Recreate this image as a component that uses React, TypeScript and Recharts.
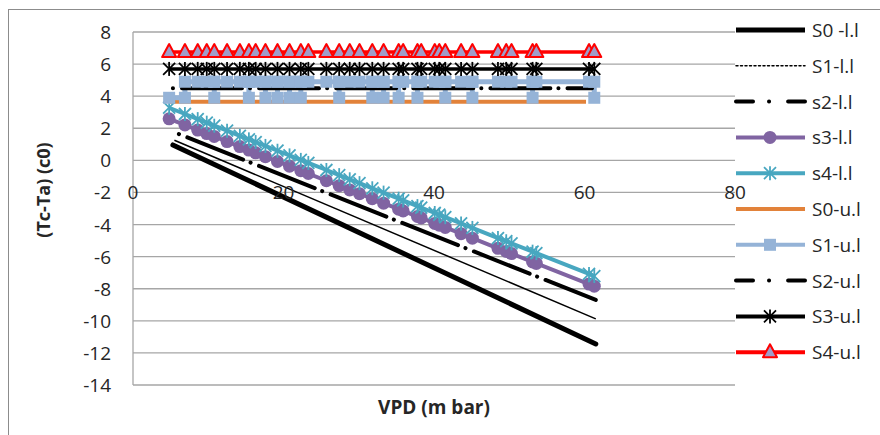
import { CartesianGrid, Line, LineChart, XAxis, YAxis } from "recharts";

// VPD readings shared by the marker series
const vpd = [
  4.8, 6.9, 8.6, 9.8, 10.8, 12.5, 14.2, 15.4, 16.3, 17.6, 19.2, 20.8, 22.3, 23.3, 25.7, 27.4, 28.8, 30.1,
  31.8, 33.3, 35.3, 35.9, 37.8, 38.3, 40.1, 40.7, 41.5, 43.6, 45.1, 48.5, 49.6, 50.3, 53.1, 53.6, 60.6, 61.3,
];

const s3Lower = [
  2.59, 2.21, 1.89, 1.67, 1.49, 1.17, 0.86, 0.64, 0.47, 0.23, -0.07, -0.36, -0.64, -0.82, -1.27, -1.58, -1.84,
  -2.08, -2.39, -2.67, -3.04, -3.15, -3.5, -3.59, -3.93, -4.04, -4.18, -4.57, -4.85, -5.48, -5.68, -5.81, -6.33,
  -6.42, -7.71, -7.84,
];
const s4Lower = [
  3.28, 2.89, 2.57, 2.35, 2.16, 1.85, 1.53, 1.31, 1.14, 0.9, 0.6, 0.31, 0.03, -0.16, -0.6, -0.92, -1.18, -1.42,
  -1.74, -2.01, -2.39, -2.5, -2.85, -2.94, -3.28, -3.39, -3.54, -3.93, -4.21, -4.84, -5.04, -5.17, -5.69, -5.78,
  -7.08, -7.21,
];
const s3Upper = [
  5.7, 5.7, 5.7, 5.7, 5.7, 5.7, 5.7, 5.7, 5.7, 5.7, 5.7, 5.7, 5.7, 5.7, 5.7, 5.7, 5.7, 5.7, 5.7, 5.7, 5.7, 5.7,
  5.7, 5.7, 5.7, 5.7, 5.7, 5.7, 5.7, 5.7, 5.7, 5.7, 5.7, 5.7, 5.7, 5.7,
];
const s4Upper = [
  6.75, 6.75, 6.75, 6.75, 6.75, 6.75, 6.75, 6.75, 6.75, 6.75, 6.75, 6.75, 6.75, 6.75, 6.75, 6.75, 6.75, 6.75,
  6.75, 6.75, 6.75, 6.75, 6.75, 6.75, 6.75, 6.75, 6.75, 6.75, 6.75, 6.75, 6.75, 6.75, 6.75, 6.75, 6.75, 6.75,
];

// S1-u.l jumps between two levels, points kept in plotted order
const s1UpperX = [
  4.8, 6.9, 6.9, 8.6, 9.8, 10.8, 10.8, 10.8, 12.5, 14.2, 15.4, 15.4, 15.4, 16.3, 17.6, 17.6, 17.6, 19.2, 19.2,
  19.2, 20.8, 20.8, 20.8, 22.3, 22.3, 22.3, 23.3, 25.7, 27.4, 27.4, 27.4, 28.8, 30.1, 31.8, 31.8, 31.8, 33.3,
  33.3, 33.3, 35.3, 35.3, 35.3, 35.9, 37.8, 37.8, 37.8, 38.3, 40.1, 40.7, 41.5, 41.5, 41.5, 43.6, 45.1, 45.1,
  45.1, 48.5, 49.6, 50.3, 53.1, 53.1, 53.1, 53.6, 60.6, 61.3, 61.3,
];
const s1UpperY = [
  3.9, 3.9, 4.9, 4.9, 4.9, 4.9, 3.9, 4.9, 4.9, 4.9, 4.9, 3.9, 4.9, 4.9, 4.9, 3.9, 4.9, 4.9, 3.9, 4.9, 4.9, 3.9,
  4.9, 4.9, 3.9, 4.9, 4.9, 4.9, 4.9, 3.9, 4.9, 4.9, 4.9, 4.9, 3.9, 4.9, 4.9, 3.9, 4.9, 4.9, 3.9, 4.9, 4.9, 4.9,
  3.9, 4.9, 4.9, 4.9, 4.9, 4.9, 3.9, 4.9, 4.9, 4.9, 3.9, 4.9, 4.9, 4.9, 4.9, 4.9, 3.9, 4.9, 4.9, 4.9, 4.9, 3.9,
];

// straight series without markers: first and last point
const s0LowerX = [5.3, 61.5];
const s0Lower = [0.96, -11.44];
const s1LowerX = [5.5, 61.5];
const s1Lower = [1.25, -9.88];
const s2LowerX = [6.1, 61.5];
const s2Lower = [1.64, -8.7];
const s0UpperX = [4.8, 60.2];
const s0Upper = [3.65, 3.65];
const s2UpperX = [5.3, 61.0];
const s2Upper = [4.49, 4.49];

const xTicks = [0, 20, 40, 60, 80];
const yTicks = [-14, -12, -10, -8, -6, -4, -2, 0, 2, 4, 6, 8];

const W = 880;
const H = 435;
const LEFT = 133;
const TOP = 32;
const RIGHT = 735;
const BOTTOM = 385;
const X_AXIS_H = 30;
const Y_MIN = -14;
const Y_MAX = 8;
const X_LABEL_ROW = -2; // excel put the category numbers on this gridline
const FONT = "'Open Sans', sans-serif";
const GRID = "#a6a6a6";

const PURPLE = "#8064a2";
const TEAL = "#48a7c0";
const ORANGE = "#e2823a";
const LIGHTBLUE = "#95b3d7";
const RED = "#ff0000";
const LAVENDER = "#a09cc9";

const pts = (xs: number[], ys: number[]) => xs.map((x, i) => ({ x, y: ys[i] }));

const yPix = (v: number) => TOP + ((Y_MAX - v) / (Y_MAX - Y_MIN)) * (BOTTOM - TOP);

function Star({ cx, cy, color }: { cx: number; cy: number; color: string }) {
  return (
    <g stroke={color} strokeWidth={1.8}>
      <line x1={cx} y1={cy - 7} x2={cx} y2={cy + 7} />
      <line x1={cx - 6} y1={cy - 6} x2={cx + 6} y2={cy + 6} />
      <line x1={cx - 6} y1={cy + 6} x2={cx + 6} y2={cy - 6} />
    </g>
  );
}

function Tri({ cx, cy }: { cx: number; cy: number }) {
  return (
    <polygon
      points={`${cx},${cy - 8} ${cx - 7},${cy + 5} ${cx + 7},${cy + 5}`}
      fill={LAVENDER}
      stroke={RED}
      strokeWidth={2}
      strokeLinejoin="round"
    />
  );
}

function Square({ cx, cy }: { cx: number; cy: number }) {
  return <rect x={cx - 6} y={cy - 6} width={12} height={12} fill={LIGHTBLUE} />;
}

function Dot({ cx, cy }: { cx: number; cy: number }) {
  return <circle cx={cx} cy={cy} r={6.5} fill={PURPLE} />;
}

const dotOf = (kind: string) => (p: any) => {
  const { cx, cy, index } = p;
  if (cx == null || cy == null) return <g key={index} />;
  if (kind === "circle") return <Dot key={index} cx={cx} cy={cy} />;
  if (kind === "tealStar") return <Star key={index} cx={cx} cy={cy} color={TEAL} />;
  if (kind === "blackStar") return <Star key={index} cx={cx} cy={cy} color="#000" />;
  if (kind === "square") return <Square key={index} cx={cx} cy={cy} />;
  return <Tri key={index} cx={cx} cy={cy} />;
};

const XTick = (p: any) => (
  <text
    x={p.x}
    y={yPix(X_LABEL_ROW)}
    textAnchor="middle"
    dominantBaseline="central"
    fontFamily={FONT}
    fontSize={19}
    fill="#262626"
  >
    {p.payload.value}
  </text>
);

const YTick = (p: any) => (
  <text
    x={LEFT - 22}
    y={p.y}
    textAnchor="end"
    dominantBaseline="central"
    fontFamily={FONT}
    fontSize={19}
    fill="#262626"
  >
    {p.payload.value}
  </text>
);

const DASHDOT_LEGEND = "17 16 0.1 19 30";

const legendItems = [
  { name: "S0 -l.l", color: "#000", width: 5, dash: undefined, marker: "" },
  { name: "S1-l.l", color: "#000", width: 1.5, dash: "2 2.5", marker: "" },
  { name: "s2-l.l", color: "#000", width: 4, dash: DASHDOT_LEGEND, marker: "" },
  { name: "s3-l.l", color: PURPLE, width: 4, dash: undefined, marker: "circle" },
  { name: "s4-l.l", color: TEAL, width: 4, dash: undefined, marker: "tealStar" },
  { name: "S0-u.l", color: ORANGE, width: 4, dash: undefined, marker: "" },
  { name: "S1-u.l", color: LIGHTBLUE, width: 4, dash: undefined, marker: "square" },
  { name: "S2-u.l", color: "#000", width: 4, dash: DASHDOT_LEGEND, marker: "" },
  { name: "S3-u.l", color: "#000", width: 4, dash: undefined, marker: "blackStar" },
  { name: "S4-u.l", color: RED, width: 4, dash: undefined, marker: "tri" },
];

function LegendBox() {
  return (
    <svg width={W} height={H} style={{ position: "absolute", left: 0, top: 0, pointerEvents: "none" }}>
      {legendItems.map((it, i) => {
        const cy = 30 + i * 35.8;
        return (
          <g key={it.name}>
            <line
              x1={736}
              y1={cy}
              x2={805}
              y2={cy}
              stroke={it.color}
              strokeWidth={it.width}
              strokeDasharray={it.dash}
              strokeLinecap={it.dash ? "round" : "butt"}
            />
            {it.marker ? dotOf(it.marker)({ cx: 770, cy, index: 0 }) : null}
            <text x={812} y={cy} dominantBaseline="central" fontFamily={FONT} fontSize={19} fill="#262626">
              {it.name}
            </text>
          </g>
        );
      })}
      <text
        x={(LEFT + RIGHT) / 2}
        y={407}
        textAnchor="middle"
        dominantBaseline="central"
        fontFamily={FONT}
        fontWeight="bold"
        fontSize={19}
        fill="#262626"
      >
        VPD (m bar)
      </text>
      <text
        transform="translate(43,190) rotate(-90)"
        textAnchor="middle"
        dominantBaseline="central"
        fontFamily={FONT}
        fontWeight="bold"
        fontSize={18}
        fill="#262626"
      >
        (Tc-Ta)  (c0)
      </text>
    </svg>
  );
}

export default function App() {
  return (
    <div style={{ position: "relative", width: W, height: H, overflow: "hidden", background: "#fff" }}>
      <style>{"body{margin:0;overflow:hidden}"}</style>
      <div
        style={{
          position: "absolute",
          left: 8,
          top: 9,
          width: 900,
          height: 500,
          borderLeft: "1.5px solid #8c8c8c",
          borderTop: "1.5px solid #8c8c8c",
        }}
      />
      <LineChart
        width={W}
        height={H}
        margin={{ top: TOP, right: W - RIGHT, bottom: H - BOTTOM - X_AXIS_H, left: LEFT - 60 }}
        style={{ position: "absolute", left: 0, top: 0 }}
      >
        <CartesianGrid horizontal vertical={false} stroke={GRID} strokeWidth={1.3} />
        <XAxis
          type="number"
          dataKey="x"
          domain={[0, 80]}
          ticks={xTicks}
          height={X_AXIS_H}
          axisLine={false}
          tickLine={false}
          tick={XTick}
          interval={0}
          allowDuplicatedCategory
        />
        <YAxis
          type="number"
          domain={[Y_MIN, Y_MAX]}
          ticks={yTicks}
          width={60}
          axisLine={{ stroke: GRID, strokeWidth: 1.3 }}
          tickLine={false}
          tick={YTick}
        />
        <Line
          data={pts(s0LowerX, s0Lower)}
          dataKey="y"
          name="S0 -l.l"
          stroke="#000"
          strokeWidth={5}
          strokeLinecap="round"
          dot={false}
          activeDot={false}
          isAnimationActive={false}
        />
        <Line
          data={pts(s1LowerX, s1Lower)}
          dataKey="y"
          name="S1-l.l"
          stroke="#000"
          strokeWidth={1.5}
          dot={false}
          activeDot={false}
          isAnimationActive={false}
        />
        <Line
          data={pts(s2LowerX, s2Lower)}
          dataKey="y"
          name="s2-l.l"
          stroke="#000"
          strokeWidth={4}
          strokeDasharray="0.1 9 60 8"
          strokeLinecap="round"
          dot={false}
          activeDot={false}
          isAnimationActive={false}
        />
        <Line
          data={pts(vpd, s3Lower)}
          dataKey="y"
          name="s3-l.l"
          stroke={PURPLE}
          strokeWidth={4}
          dot={dotOf("circle")}
          activeDot={false}
          isAnimationActive={false}
        />
        <Line
          data={pts(vpd, s4Lower)}
          dataKey="y"
          name="s4-l.l"
          stroke={TEAL}
          strokeWidth={4}
          dot={dotOf("tealStar")}
          activeDot={false}
          isAnimationActive={false}
        />
        <Line
          data={pts(s0UpperX, s0Upper)}
          dataKey="y"
          name="S0-u.l"
          stroke={ORANGE}
          strokeWidth={4}
          dot={false}
          activeDot={false}
          isAnimationActive={false}
        />
        <Line
          data={pts(s1UpperX, s1UpperY)}
          dataKey="y"
          name="S1-u.l"
          stroke={LIGHTBLUE}
          strokeWidth={5}
          dot={dotOf("square")}
          activeDot={false}
          isAnimationActive={false}
        />
        <Line
          data={pts(s2UpperX, s2Upper)}
          dataKey="y"
          name="S2-u.l"
          stroke="#000"
          strokeWidth={4}
          strokeDasharray="0.1 9 60 8"
          strokeLinecap="round"
          dot={false}
          activeDot={false}
          isAnimationActive={false}
        />
        <Line
          data={pts(vpd, s3Upper)}
          dataKey="y"
          name="S3-u.l"
          stroke="#000"
          strokeWidth={3.5}
          dot={dotOf("blackStar")}
          activeDot={false}
          isAnimationActive={false}
        />
        <Line
          data={pts(vpd, s4Upper)}
          dataKey="y"
          name="S4-u.l"
          stroke={RED}
          strokeWidth={3.5}
          dot={dotOf("tri")}
          activeDot={false}
          isAnimationActive={false}
        />
      </LineChart>
      <LegendBox />
    </div>
  );
}
